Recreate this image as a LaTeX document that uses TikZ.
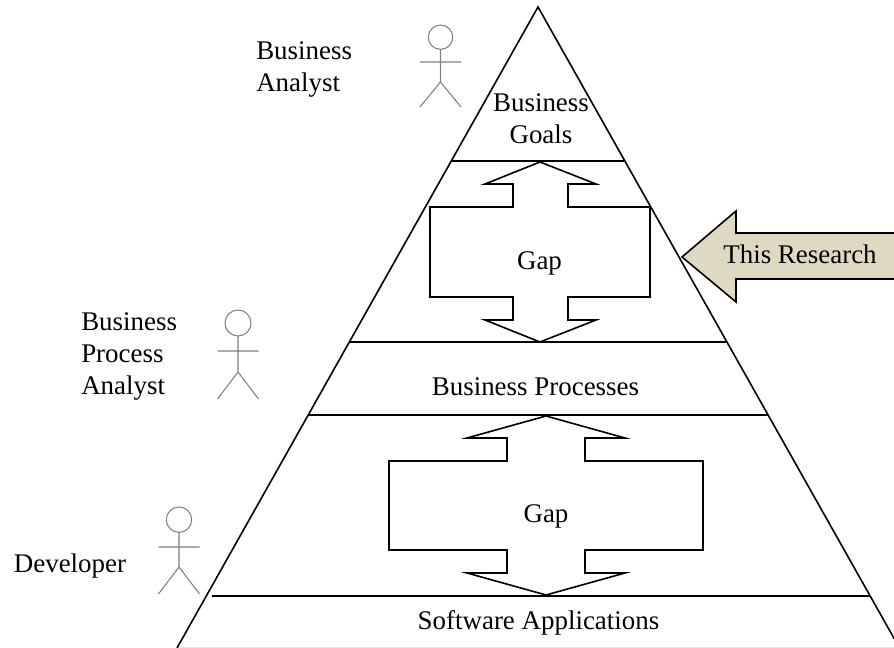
\documentclass[tikz,border=0pt]{standalone}
\usepackage{fontspec}
\setmainfont{Liberation Serif}
\definecolor{khaki}{HTML}{DDD9C3}
\definecolor{figgray}{HTML}{808080}
\definecolor{edgegray}{HTML}{E6E6E6}
\tikzset{
 x=0.75pt,y=-0.75pt,
 line/.style={draw=black,line width=1.2pt,line join=miter},
 actorline/.style={draw=figgray,line width=0.8pt},
 lab/.style={inner sep=0pt,align=center,font=\fontsize{20.2pt}{24pt}\selectfont},
 labl/.style={lab,align=left},
}
\newcommand{\actor}[6]{% x, head top, radius, crossbar y, hip y, foot y
 \draw[actorline] (#1,#2+#3) circle[radius=#3];
 \draw[actorline] (#1,#2+2*#3) -- (#1,#5) (#1-20.5,#4) -- (#1+20.5,#4)
   (#1-20.5,#6) -- (#1,#5) -- (#1+20.5,#6);
}
\begin{document}
\begin{tikzpicture}
\useasboundingbox (0,0) rectangle (894,648);
\clip (0,0) rectangle (894,648);
\draw[edgegray,line width=0.75pt] (177,647.5) -- (894,647.5);
\coordinate (apex) at (538,7);
\coordinate (bl) at (177,648);
\coordinate (br) at (899.5,648);
\draw[line] (bl) -- (apex) -- (br);
\foreach \y/\a/\b in {161/451/625,342/349/727,415/308/768,596/212/870}
  \draw[line] (\a,\y) -- (\b,\y);
\draw[line] (540,162) -- (596,184) -- (568,184) -- (568,207) -- (650,207) -- (650,297) -- (568,297) -- (568,320) -- (596,320) -- (540,342) -- (485,320) -- (513,320) -- (513,297) -- (430,297) -- (430,207) -- (513,207) -- (513,184) -- (485,184) -- cycle;
\draw[line] (546,416) -- (625,438) -- (585,438) -- (585,461) -- (703,461) -- (703,550) -- (585,550) -- (585,573) -- (625,573) -- (546,595) -- (467,573) -- (507,573) -- (507,550) -- (389,550) -- (389,461) -- (507,461) -- (507,438) -- (467,438) -- cycle;
\draw[line,fill=khaki] (682,257) -- (736,211) -- (736,233) -- (900,233) -- (900,279) -- (736,279) -- (736,302) -- cycle;
\actor{440.5}{25}{12.2}{62}{82}{107}
\actor{238}{310}{13}{351}{372}{399}
\actor{179}{507}{12.7}{547}{567}{594}
\node[labl,anchor=west] (ba) at (256,69) {Business\\Analyst};
\node[labl,anchor=west] (bpa) at (81,356.5) {Business\\Process\\Analyst};
\node[lab,anchor=base] (dev) at (70,572.5) {Developer};
\node[lab] (bg) at (541,119) {Business\\Goals};
\node[lab,anchor=base] (gap1) at (539.5,269.5) {Gap};
\node[lab,anchor=base] (bp) at (535.5,395.5) {Business Processes};
\node[lab,anchor=base] (gap2) at (546,523) {Gap};
\node[lab,anchor=base] (sa) at (538.5,629.5) {Software Applications};
\node[lab,anchor=base] (res) at (800,264) {This Research};
\end{tikzpicture}
\end{document}
